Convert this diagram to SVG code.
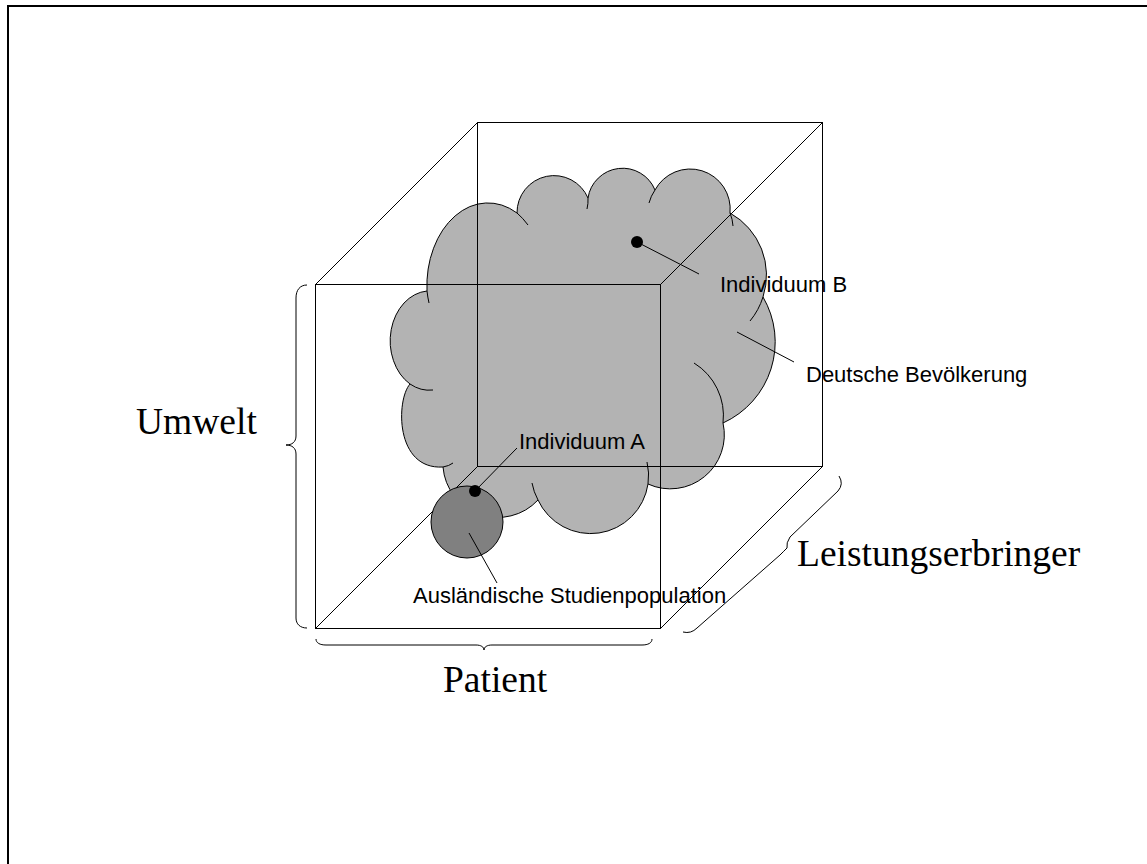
<svg xmlns="http://www.w3.org/2000/svg" width="1147" height="864" viewBox="0 0 1147 864">
<style>
.ln{fill:none;stroke:#000;stroke-width:1}
.sans{font-family:"Liberation Sans",Arial,sans-serif;font-size:22px;fill:#000}
.serif{font-family:"Liberation Serif","Times New Roman",serif;font-size:37.5px;fill:#000}
</style>
<rect width="1147" height="864" fill="#fff"/>
<path id="frame" d="M8,864 V6 H1147" fill="none" stroke="#000" stroke-width="2"/>
<g id="cloud">
<path d="M427,291 A61,83 0 0 1 517,213 A37,37 0 0 1 588,198 A35,35 0 0 1 655,190 A40,40 0 0 1 730,213 A71,71 0 0 1 763,297 A89,89 0 0 1 723,423 A54,54 0 0 1 648,484 A58,58 0 0 1 538,500 A55,55 0 0 1 443,467 C395,470 396,400 410,384 A40,50 0 0 1 427,291 Z" fill="#b3b3b3" stroke="#000" stroke-width="1"/>
<path class="ln" d="M427,291 A61,83 0 0 0 429,303 M517,213 A61,83 0 0 1 528,225 M588,198 A37,37 0 0 1 587,209 M655,190 A40,40 0 0 0 649,203 M730,213 A40,40 0 0 1 733,226 M763,297 A71,71 0 0 1 750,321 M694,363 A62,62 0 0 1 723,423 M647,462 A58,58 0 0 1 648,484 M538,500 A58,58 0 0 1 532,483 M443,467 Q449,466 453,463 M410,384 A40,50 0 0 0 433,390"/>
</g>
<g id="cube" class="ln">
<rect x="315.5" y="284.5" width="345" height="344"/>
<rect x="477.5" y="122.5" width="345" height="344"/>
<path d="M315.5,284.5 L477.5,122.5 M660.5,284.5 L822.5,122.5 M315.5,628.5 L477.5,466.5 M660.5,628.5 L822.5,466.5"/>
</g>
<g id="studienpopulation">
<circle cx="467" cy="522" r="36" fill="#808080" stroke="#000" stroke-width="1"/>
</g>
<g id="individuum-a"><circle cx="475" cy="491" r="6" fill="#000"/></g>
<g id="individuum-b"><circle cx="637" cy="242" r="6" fill="#000"/></g>
<g id="connectors" class="ln">
<line x1="637" y1="242" x2="699" y2="274"/>
<line x1="475" y1="491" x2="517" y2="448"/>
<line x1="737" y1="332" x2="794" y2="362"/>
<line x1="469" y1="533" x2="497" y2="583"/>
</g>
<g id="braces" class="ln">
<path d="M307,285 C300,285 296,290 296,298 L296,436 C296,442 292,445 286,445 C292,445 296,448 296,454 L296,618 C296,624 300,628 307,628"/>
<path d="M316,639 C316,643 320,645 326,645 L476,645 C481,645 484,647 484,650 C484,647 487,645 492,645 L642,645 C648,645 652,643 652,639"/>
<path d="M839,476 Q844,484 838,491 L790,537 Q786,543 787,548 Q784,551 780,555 L697,628 Q691,634 683,632"/>
</g>
<g id="labels">
<text class="sans" x="720" y="292">Individuum B</text>
<text class="sans" x="806" y="381.5">Deutsche Bevölkerung</text>
<text class="sans" x="519" y="449">Individuum A</text>
<text class="sans" x="413" y="603">Ausländische Studienpopulation</text>
<text class="serif" x="136" y="434">Umwelt</text>
<text class="serif" x="443" y="692">Patient</text>
<text class="serif" x="797" y="566">Leistungserbringer</text>
</g>
</svg>
